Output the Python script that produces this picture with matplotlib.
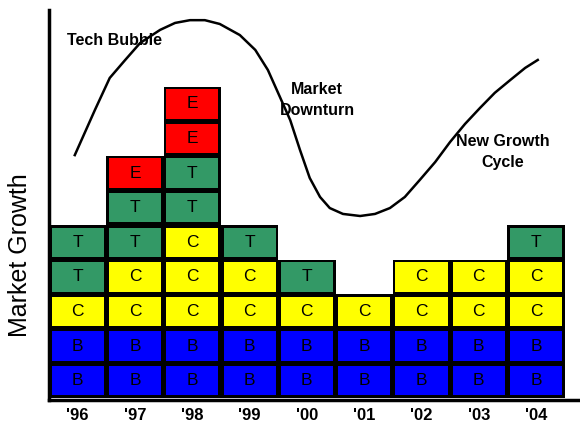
import matplotlib.pyplot as plt
from matplotlib.patches import Rectangle

plt.rcParams['font.family'] = ['Liberation Sans', 'DejaVu Sans']

years = ["'96", "'97", "'98", "'99", "'00", "'01", "'02", "'03", "'04"]
# blocks stacked bottom-up for each year
stacks = [
    ["B", "B", "C", "T", "T"],
    ["B", "B", "C", "C", "T", "T", "E"],
    ["B", "B", "C", "C", "C", "T", "T", "E", "E"],
    ["B", "B", "C", "C", "T"],
    ["B", "B", "C", "T"],
    ["B", "B", "C"],
    ["B", "B", "C", "C"],
    ["B", "B", "C", "C"],
    ["B", "B", "C", "C", "T"],
]
block_colors = {"B": "#0000ff", "C": "#ffff00", "T": "#339966", "E": "#ff0000"}

# hand drawn market cycle curve (x in year slots, y in block units)
curve_x = [0.45, 0.80, 1.06, 1.33, 1.59, 1.94, 2.20, 2.46, 2.72, 2.98, 3.33, 3.60,
           3.82, 4.03, 4.21, 4.38, 4.55, 4.73, 4.90, 5.13, 5.43, 5.69, 5.95, 6.21,
           6.47, 6.74, 7.00, 7.26, 7.52, 7.78, 8.05, 8.31, 8.53]
curve_y = [7.02, 8.32, 9.25, 9.77, 10.26, 10.64, 10.84, 10.92, 10.92, 10.81, 10.49, 10.06,
           9.48, 8.70, 8.03, 7.17, 6.36, 5.81, 5.49, 5.32, 5.26, 5.32, 5.49, 5.81,
           6.30, 6.82, 7.40, 7.92, 8.38, 8.82, 9.19, 9.54, 9.77]

fig = plt.figure(figsize=(5.8, 4.25), dpi=100)
ax = fig.add_axes([49 / 580, 25 / 425, 529 / 580, 390 / 425])
ax.set_xlim(0, 529 / 57.3)
ax.set_ylim(-2 / 34.6, 390 / 34.6 - 2 / 34.6)

dx = 2.6 / 57.3
dy = 2.6 / 34.6
for i, stack in enumerate(stacks):
    n = len(stack)
    ax.add_patch(Rectangle((i, 0), 1, n, facecolor="black", edgecolor="none", zorder=2))
    for j, b in enumerate(stack):
        ax.add_patch(Rectangle((i + dx, j + dy), 1 - 2 * dx, 1 - 2 * dy,
                               facecolor=block_colors[b], edgecolor="none", zorder=3))
        ax.text(i + 0.5, j + 0.5, b, ha="center", va="center", fontsize=12.5, zorder=4)

ax.plot(curve_x, curve_y, color="black", lw=1.8, zorder=5)

ax.text((67 - 49) / 57.3, (398 - 40) / 34.6, "Tech Bubble", fontsize=11.5,
        fontweight="bold", ha="left", va="center", zorder=6)
ax.text((317 - 49) / 57.3, (398 - 100) / 34.6, "Market\nDownturn",
        fontsize=11.5, fontweight="bold", ha="center", va="center", linespacing=1.5, zorder=6)
ax.text((503 - 49) / 57.3, (398 - 152) / 34.6, "New Growth\nCycle", fontsize=11.5,
        fontweight="bold", ha="center", va="center", linespacing=1.5, zorder=6)

ax.set_xticks([i + 0.5 for i in range(len(years))])
ax.set_xticklabels(years, fontsize=12, fontweight="bold")
ax.tick_params(axis="x", length=0, pad=6)
ax.set_yticks([])
ax.set_ylabel("Market Growth", fontsize=18)
ax.yaxis.set_label_coords(-0.032, 0.372)

for side in ["top", "right"]:
    ax.spines[side].set_visible(False)
for side in ["left", "bottom"]:
    ax.spines[side].set_linewidth(2.5)
    ax.spines[side].set_zorder(7)

fig.savefig("out.png", dpi=100)
